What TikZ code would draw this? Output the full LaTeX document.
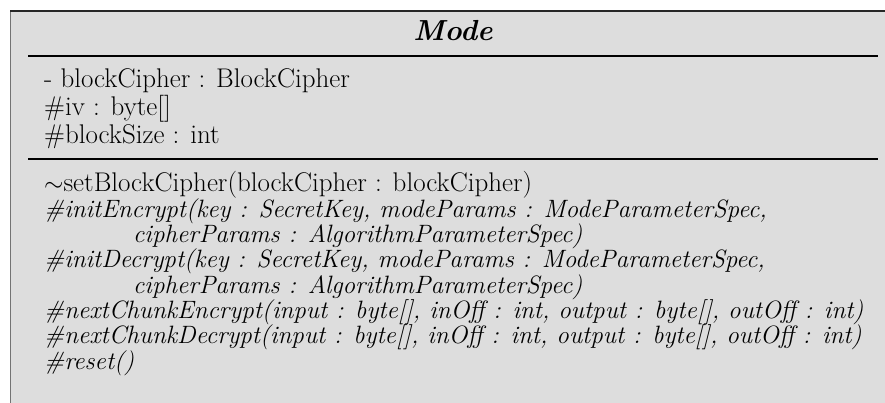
\documentclass[tikz,border=0pt]{standalone}
\usepackage{fontspec}
\setmainfont{Latin Modern Roman}
\definecolor{boxfill}{HTML}{DDDDDD}
\tikzset{
  txt/.style={anchor=base west, inner sep=0pt, font=\fontsize{27}{27}\selectfont},
  itx/.style={anchor=base west, inner sep=0pt, font=\fontsize{25.1}{25.1}\selectfont\itshape},
  ttl/.style={anchor=base, inner sep=0pt, font=\fontsize{29}{29}\selectfont\bfseries\itshape},
  sep/.style={line width=1.8pt, black}
}
\begin{document}
\begin{tikzpicture}[x=1pt,y=-1pt]
\useasboundingbox (0,0) rectangle (885,403);
\fill[boxfill] (10,11) rectangle (900,410);
\draw[black!55, line width=1pt] (10,410) -- (10,11);
\draw[black!85, line width=1.2pt] (10,11) -- (900,11);
\node[ttl] (title) at (453,41) {Mode};
\draw[sep] (28,56) -- (878,56);
\node[txt] (a1) at (44,88) {- blockCipher : BlockCipher};
\node[txt] (a2) at (44,116) {\#iv : byte[]};
\node[txt] (a3) at (44,144) {\#blockSize : int};
\draw[sep] (28,159) -- (878,159);
\node[txt] (m1) at (44,192) {$\sim$setBlockCipher(blockCipher : blockCipher)};
\node[itx] (m2) at (44,217.3) {\#initEncrypt(key : SecretKey, modeParams : ModeParameterSpec,};
\node[itx] (m2b) at (133,242.6) {cipherParams : AlgorithmParameterSpec)};
\node[itx] (m3) at (44,267.9) {\#initDecrypt(key : SecretKey, modeParams : ModeParameterSpec,};
\node[itx] (m3b) at (133,293.2) {cipherParams : AlgorithmParameterSpec)};
\node[itx] (m4) at (44,318.5) {\#nextChunkEncrypt(input : byte[], inOff : int, output : byte[], outOff : int)};
\node[itx] (m5) at (44,343.8) {\#nextChunkDecrypt(input : byte[], inOff : int, output : byte[], outOff : int)};
\node[itx] (m6) at (44,369) {\#reset()};
\end{tikzpicture}
\end{document}
